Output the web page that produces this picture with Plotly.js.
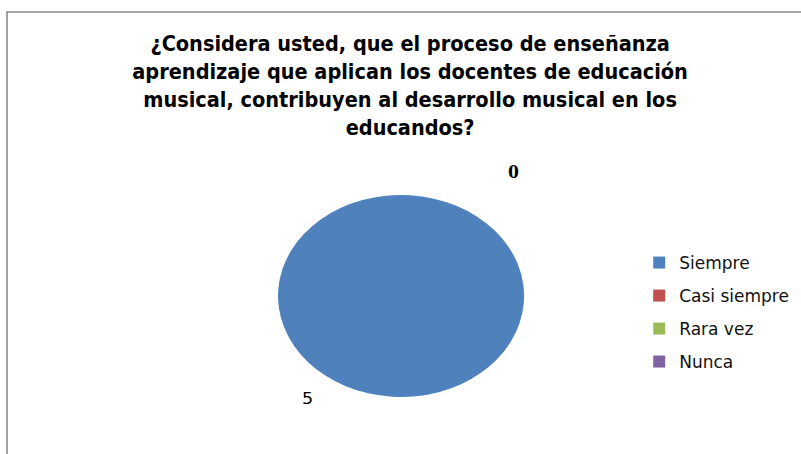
<!DOCTYPE html>
<html><head><meta charset="utf-8">
<script src="https://cdn.plot.ly/plotly-3.0.1.min.js"></script>
<style>html,body{margin:0;padding:0;background:#fff}#chart{width:801px;height:454px}</style>
</head><body><div id="chart"></div>
<script>
const titleLines = [
  '¿Considera usted, que el proceso de enseñanza',
  'aprendizaje que aplican los docentes de educación',
  'musical, contribuyen al desarrollo musical en los',
  'educandos?'
];
const categories = ['Siempre', 'Casi siempre', 'Rara vez', 'Nunca'];
const counts = [5, 0, 0, 0];
const colors = ['#4F81BD', '#C0504D', '#9BBB59', '#8064A2'];
// Excel overlaps the three zero labels into one; show it once
const labelTemplates = ['&nbsp;<br>%{value}', '&nbsp;&nbsp;%{value}<br>&nbsp;<br>&nbsp;', '', ''];
const labelFonts = ['DejaVu Sans Condensed, DejaVu Sans', 'Liberation Serif', 'Liberation Serif', 'Liberation Serif'];
const labelWeights = ['normal', 'bold', 'bold', 'bold'];
const labelSizes = [16, 18, 18, 18];

const pieStretchX = 1.218;   // reference pie is drawn as an ellipse
const legendSpacing = 33;

const data = [{
  type: 'pie',
  labels: categories,
  values: counts,
  sort: false,
  direction: 'clockwise',
  rotation: 38,
  marker: {colors: colors, line: {width: 0}},
  texttemplate: labelTemplates,
  textposition: 'outside',
  textfont: {family: labelFonts, weight: labelWeights, size: labelSizes, color: '#000'},
  domain: {x: [0.3134, 0.6879], y: [0.1256, 0.5705]},
  hoverinfo: 'none'
}];

const layout = {
  width: 801, height: 454,
  margin: {l: 0, r: 0, t: 0, b: 0},
  paper_bgcolor: '#fff',
  title: {
    text: titleLines.join('<br>'),
    font: {family: 'DejaVu Sans Condensed, DejaVu Sans', size: 21.5, weight: 'bold', color: '#000'},
    x: 0.512, xanchor: 'center',
    y: 1 - 51 / 454, yanchor: 'top'
  },
  showlegend: true,
  legend: {
    x: 0.798, xanchor: 'left',
    y: 1 - 245 / 454, yanchor: 'top',
    font: {family: 'DejaVu Sans', size: 17, color: '#111'},
    bgcolor: 'rgba(0,0,0,0)'
  },
  shapes: [{
    type: 'rect', xref: 'paper', yref: 'paper',
    x0: 7 / 801, x1: 1.05, y0: -0.05, y1: 1 - 12 / 454,
    line: {color: '#8a8a8a', width: 1.6}, fillcolor: 'rgba(0,0,0,0)', layer: 'below'
  }]
};

const gd = document.getElementById('chart');
Plotly.newPlot(gd, data, layout, {staticPlot: true, displayModeBar: false}).then(() => {
  const cd0 = gd.calcdata[0][0];
  const cx = cd0.cx;
  const pl = gd.querySelector('.pielayer');
  if (pl) pl.setAttribute('transform', `translate(${cx},0) scale(${pieStretchX},1) translate(${-cx},0)`);
  const sb = gd.querySelector('.legend .scrollbox');
  if (sb) sb.removeAttribute('clip-path');
  const items = gd.querySelectorAll('.legend .traces');
  let y0 = null;
  items.forEach((el, i) => {
    const t = el.getAttribute('transform') || '';
    const m = t.match(/translate\(\s*([-\d.]+)[ ,]+([-\d.]+)\s*\)/);
    if (!m) return;
    if (y0 === null) y0 = parseFloat(m[2]);
    el.setAttribute('transform', `translate(${m[1]},${y0 + i * legendSpacing})`);
  });
});
</script>
</body></html>
